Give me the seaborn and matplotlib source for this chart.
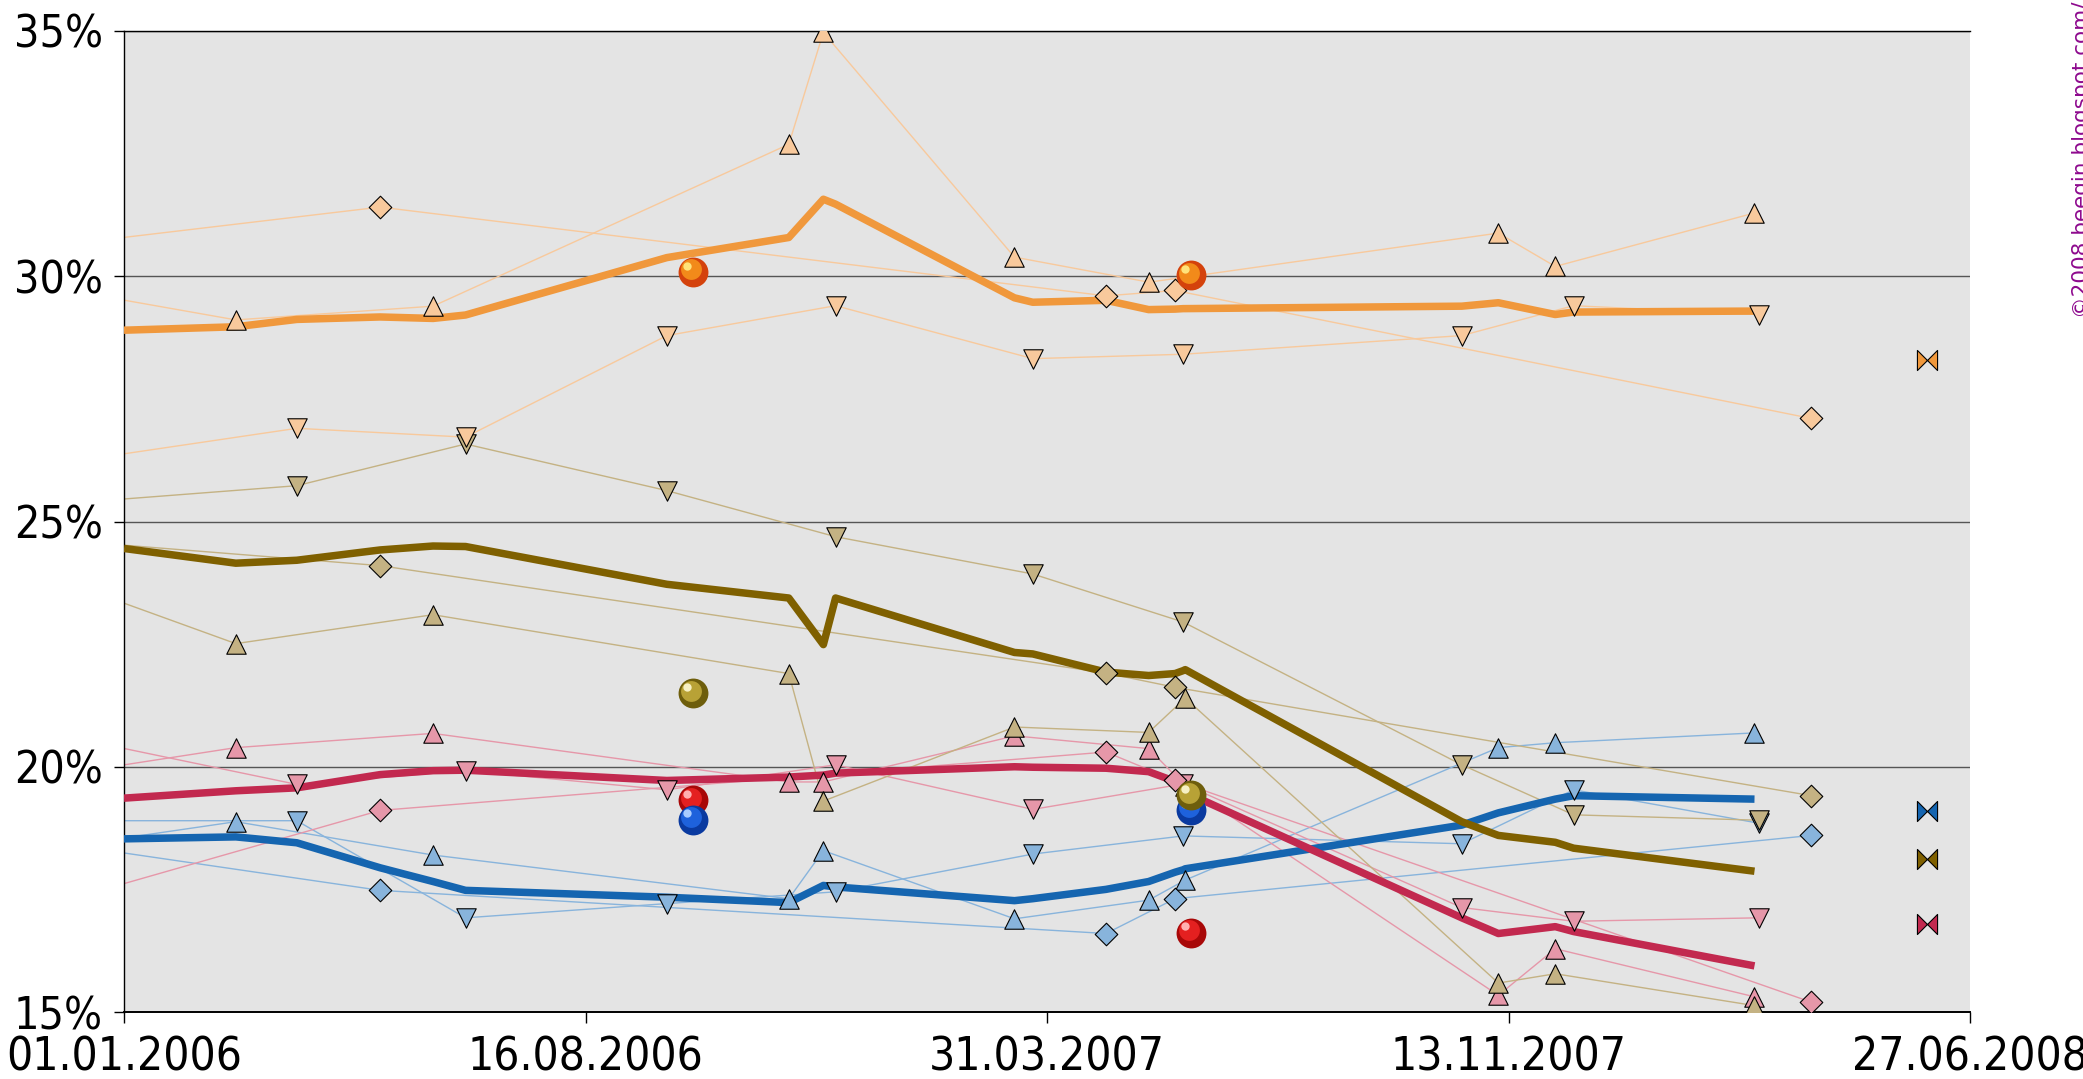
import pandas as pd
import numpy as np
import matplotlib
matplotlib.use('Agg')
import matplotlib.pyplot as plt
import matplotlib.dates as mdates
from matplotlib import font_manager
from matplotlib.font_manager import FontProperties
from matplotlib.path import Path
from matplotlib.transforms import offset_copy
import seaborn as sns

# ---------------- datos ----------------
# fechas del promedio (linea gruesa)
trend_dates = pd.to_datetime([
    '2006-01-01', '2006-02-25', '2006-03-27', '2006-05-07', '2006-06-02', '2006-06-18',
    '2006-09-25', '2006-11-24', '2006-12-11', '2006-12-17', '2007-03-15', '2007-03-24',
    '2007-04-29', '2007-05-20', '2007-06-02', '2007-06-06', '2007-06-07', '2007-10-21',
    '2007-11-08', '2007-12-06', '2007-12-15', '2008-03-13'])

# fechas de cada encuestadora (triangulo arriba, triangulo abajo, rombo)
tri_up_dates = pd.to_datetime([
    '2005-12-01', '2006-02-25', '2006-06-02', '2006-11-24', '2006-12-11', '2007-03-15',
    '2007-05-20', '2007-06-07', '2007-11-08', '2007-12-06', '2008-03-13'])
tri_down_dates = pd.to_datetime([
    '2005-12-01', '2006-03-27', '2006-06-18', '2006-09-25', '2006-12-17', '2007-03-24',
    '2007-06-06', '2007-10-21', '2007-12-15', '2008-03-15'])
diamond_dates = pd.to_datetime(['2005-12-01', '2006-05-07', '2007-04-29', '2007-06-02', '2008-04-10'])

election_dates = pd.to_datetime(['2006-10-08', '2007-06-10'])
bowtie_date = pd.to_datetime(['2008-06-06'])

partidos = ['VLD', 'sp.a-spirit', 'Vlaams Belang', 'CD&V/N-VA']

trend = {
    'CD&V/N-VA': [28.90, 28.97, 29.12, 29.17, 29.14, 29.21, 30.38, 30.79, 31.57, 31.47, 29.56,
                  29.47, 29.51, 29.32, 29.33, 29.34, 29.34, 29.39, 29.46, 29.22, 29.27, 29.29],
    'Vlaams Belang': [24.45, 24.15, 24.21, 24.42, 24.50, 24.49, 23.72, 23.44, 22.49, 23.44, 22.33,
                      22.30, 21.93, 21.86, 21.90, 21.96, 21.98, 18.88, 18.60, 18.46, 18.34, 17.87],
    'sp.a-spirit': [19.36, 19.51, 19.57, 19.84, 19.92, 19.93, 19.72, 19.79, 19.83, 19.87, 20.00,
                    19.99, 19.97, 19.90, 19.70, 19.55, 19.48, 16.92, 16.60, 16.74, 16.64, 15.94],
    'VLD': [18.53, 18.57, 18.45, 17.94, 17.66, 17.48, 17.34, 17.23, 17.58, 17.55, 17.27,
            17.31, 17.50, 17.66, 17.85, 17.90, 17.92, 18.81, 19.06, 19.34, 19.41, 19.34],
}

tri_up = {
    'CD&V/N-VA': [29.74, 29.11, 29.39, 32.69, 34.97, 30.39, 29.88, 29.98, 30.88, 30.20, 31.29],
    'Vlaams Belang': [23.80, 22.51, 23.10, 21.90, 19.30, 20.81, 20.70, 21.40, 15.59, 15.78, 15.13],
    'sp.a-spirit': [19.84, 20.39, 20.68, 19.69, 19.69, 20.63, 20.37, 19.61, 15.34, 16.29, 15.31],
    'VLD': [18.36, 18.88, 18.20, 17.31, 18.29, 16.90, 17.28, 17.69, 20.39, 20.49, 20.69],
}
tri_down = {
    'CD&V/N-VA': [26.19, 26.90, 26.72, 28.79, 29.40, 28.32, 28.41, 28.79, 29.40, 29.22],
    'Vlaams Belang': [25.36, 25.73, 26.58, 25.63, 24.69, 23.93, 22.95, 20.04, 19.02, 18.91],
    'sp.a-spirit': [20.64, 19.64, 19.92, 19.53, 20.04, 19.13, 19.65, 17.13, 16.85, 16.92],
    'VLD': [18.90, 18.90, 16.92, 17.21, 17.45, 18.22, 18.59, 18.43, 19.53, 18.85],
}
diamond = {
    'CD&V/N-VA': [30.64, 31.41, 29.60, 29.71, 27.10],
    'Vlaams Belang': [24.62, 24.10, 21.91, 21.62, 19.41],
    'sp.a-spirit': [17.25, 19.11, 20.30, 19.72, 15.20],
    'VLD': [18.43, 17.48, 16.60, 17.31, 18.60],
}
elecciones = {
    'CD&V/N-VA': [30.09, 30.02],
    'Vlaams Belang': [21.50, 19.42],
    'sp.a-spirit': [19.32, 16.62],
    'VLD': [18.92, 19.12],
}
bowtie = {'CD&V/N-VA': 28.30, 'Vlaams Belang': 18.11, 'sp.a-spirit': 16.79, 'VLD': 19.09}

# colores: (linea gruesa, claro, bola oscuro, bola medio, brillo)
colores = {
    'CD&V/N-VA': ('#F0983C', '#F8C99C', '#D4420C', '#F28A1A', '#FFE27A'),
    'Vlaams Belang': ('#7F6000', '#C4B283', '#6E5E0C', '#B8A236', '#F6F0C4'),
    'sp.a-spirit': ('#C2294F', '#E697A9', '#A80808', '#E42020', '#FFB0B0'),
    'VLD': ('#1565B0', '#88B4DC', '#0A3AA0', '#1E62DC', '#A8CCFF'),
}

# ---------------- grafico ----------------
sns.set_theme(style='white')
plt.rcParams['font.family'] = ['Liberation Sans', 'DejaVu Sans']

# buscar una fuente estrecha si existe
estrechas = [f.fname for f in font_manager.fontManager.ttflist
             if ('Narrow' in f.fname or 'Condensed' in f.fname)
             and 'Bold' not in f.fname and 'Italic' not in f.fname and 'Oblique' not in f.fname]
if estrechas:
    fuente_x = FontProperties(fname=sorted(estrechas)[0], size=33)
    fuente_y = FontProperties(fname=sorted(estrechas)[0], size=32)
else:
    fuente_x = FontProperties(family='Liberation Sans', size=30.5)
    fuente_y = FontProperties(family='Liberation Sans', size=29)

fig = plt.figure(figsize=(20.83, 10.79), dpi=100)
ax = fig.add_axes([124 / 2083, 1 - 1012 / 1079, (1970 - 124) / 2083, (1012 - 31) / 1079])
ax.set_facecolor('#E4E4E4')

for p in partidos:
    gruesa, claro = colores[p][0], colores[p][1]
    for fechas, vals in [(tri_up_dates, tri_up[p]), (tri_down_dates, tri_down[p]),
                         (diamond_dates, diamond[p])]:
        sns.lineplot(x=fechas, y=vals, color=claro, lw=1.0, ax=ax, zorder=2)

for p in partidos:
    sns.lineplot(x=trend_dates, y=trend[p], color=colores[p][0], lw=5.4, ax=ax, zorder=3,
                 solid_capstyle='butt')

for p in partidos:
    claro = colores[p][1]
    sns.scatterplot(x=tri_up_dates, y=tri_up[p], marker='^', s=14 ** 2, color=claro,
                    edgecolor='black', linewidth=0.8, ax=ax, zorder=4, legend=False)
    sns.scatterplot(x=tri_down_dates, y=tri_down[p], marker='v', s=14 ** 2, color=claro,
                    edgecolor='black', linewidth=0.8, ax=ax, zorder=4, legend=False)
    sns.scatterplot(x=diamond_dates, y=diamond[p], marker='D', s=11.5 ** 2, color=claro,
                    edgecolor='black', linewidth=0.8, ax=ax, zorder=4, legend=False)

# lazo al final
lazo = Path([(-1, 1), (0, 0), (1, 1), (1, -1), (0, 0), (-1, -1), (-1, 1)],
            [Path.MOVETO] + [Path.LINETO] * 5 + [Path.CLOSEPOLY])
for p in partidos:
    ax.plot(bowtie_date, [bowtie[p]], marker=lazo, ms=14.5, mfc=colores[p][0],
            mec='black', mew=0.8, ls='none', zorder=5)

# bolas de las elecciones
for p in ['sp.a-spirit', 'VLD', 'Vlaams Belang', 'CD&V/N-VA']:
    _, _, oscuro, medio, brillo = colores[p]
    ax.plot(election_dates, elecciones[p], 'o', ms=21.5, mfc=oscuro, mec='none', zorder=6)
    t1 = offset_copy(ax.transData, fig=fig, x=-1.8, y=1.8, units='points')
    ax.plot(election_dates, elecciones[p], 'o', ms=15, mfc=medio, mec='none', zorder=6,
            transform=t1)
    t2 = offset_copy(ax.transData, fig=fig, x=-4.5, y=4.5, units='points')
    ax.plot(election_dates, elecciones[p], 'o', ms=6, mfc=brillo, mec='none', zorder=6,
            transform=t2)

# ejes
ax.set_xlim(pd.Timestamp('2006-01-01'), pd.Timestamp('2008-06-27'))
ax.set_ylim(15, 35)
xticks = pd.to_datetime(['2006-01-01', '2006-08-16', '2007-03-31', '2007-11-13', '2008-06-27'])
ax.set_xticks(xticks)
ax.xaxis.set_major_formatter(mdates.DateFormatter('%d.%m.%Y'))
ax.set_yticks([15, 20, 25, 30, 35])
ax.set_yticklabels([f'{v}%' for v in [15, 20, 25, 30, 35]])
ax.set_xlabel('')
ax.set_ylabel('')

ax.yaxis.grid(True, color='#555555', lw=1.0, zorder=1)
ax.xaxis.grid(False)
ax.set_axisbelow(True)
for lado in ['left', 'top', 'bottom']:
    ax.spines[lado].set_visible(True)
    ax.spines[lado].set_color('black')
    ax.spines[lado].set_linewidth(1.0)
ax.spines['bottom'].set_linewidth(1.4)
ax.spines['right'].set_visible(False)

ax.tick_params(axis='y', direction='out', length=7, width=1, color='black', pad=8, left=True)
ax.tick_params(axis='x', direction='out', length=8, width=1, color='black', pad=9, bottom=True)
for lbl in ax.get_xticklabels():
    lbl.set_fontproperties(fuente_x)
    lbl.set_color('black')
for lbl in ax.get_yticklabels():
    lbl.set_fontproperties(fuente_y)
    lbl.set_color('black')

fig.text(2072 / 2083, 1 - 318 / 1079, '©2008 beegin.blogspot.com/', rotation=90,
         ha='left', va='bottom', color='#8E0A8E', fontsize=15.5, family='DejaVu Sans')

fig.savefig('out.png', dpi=100)
